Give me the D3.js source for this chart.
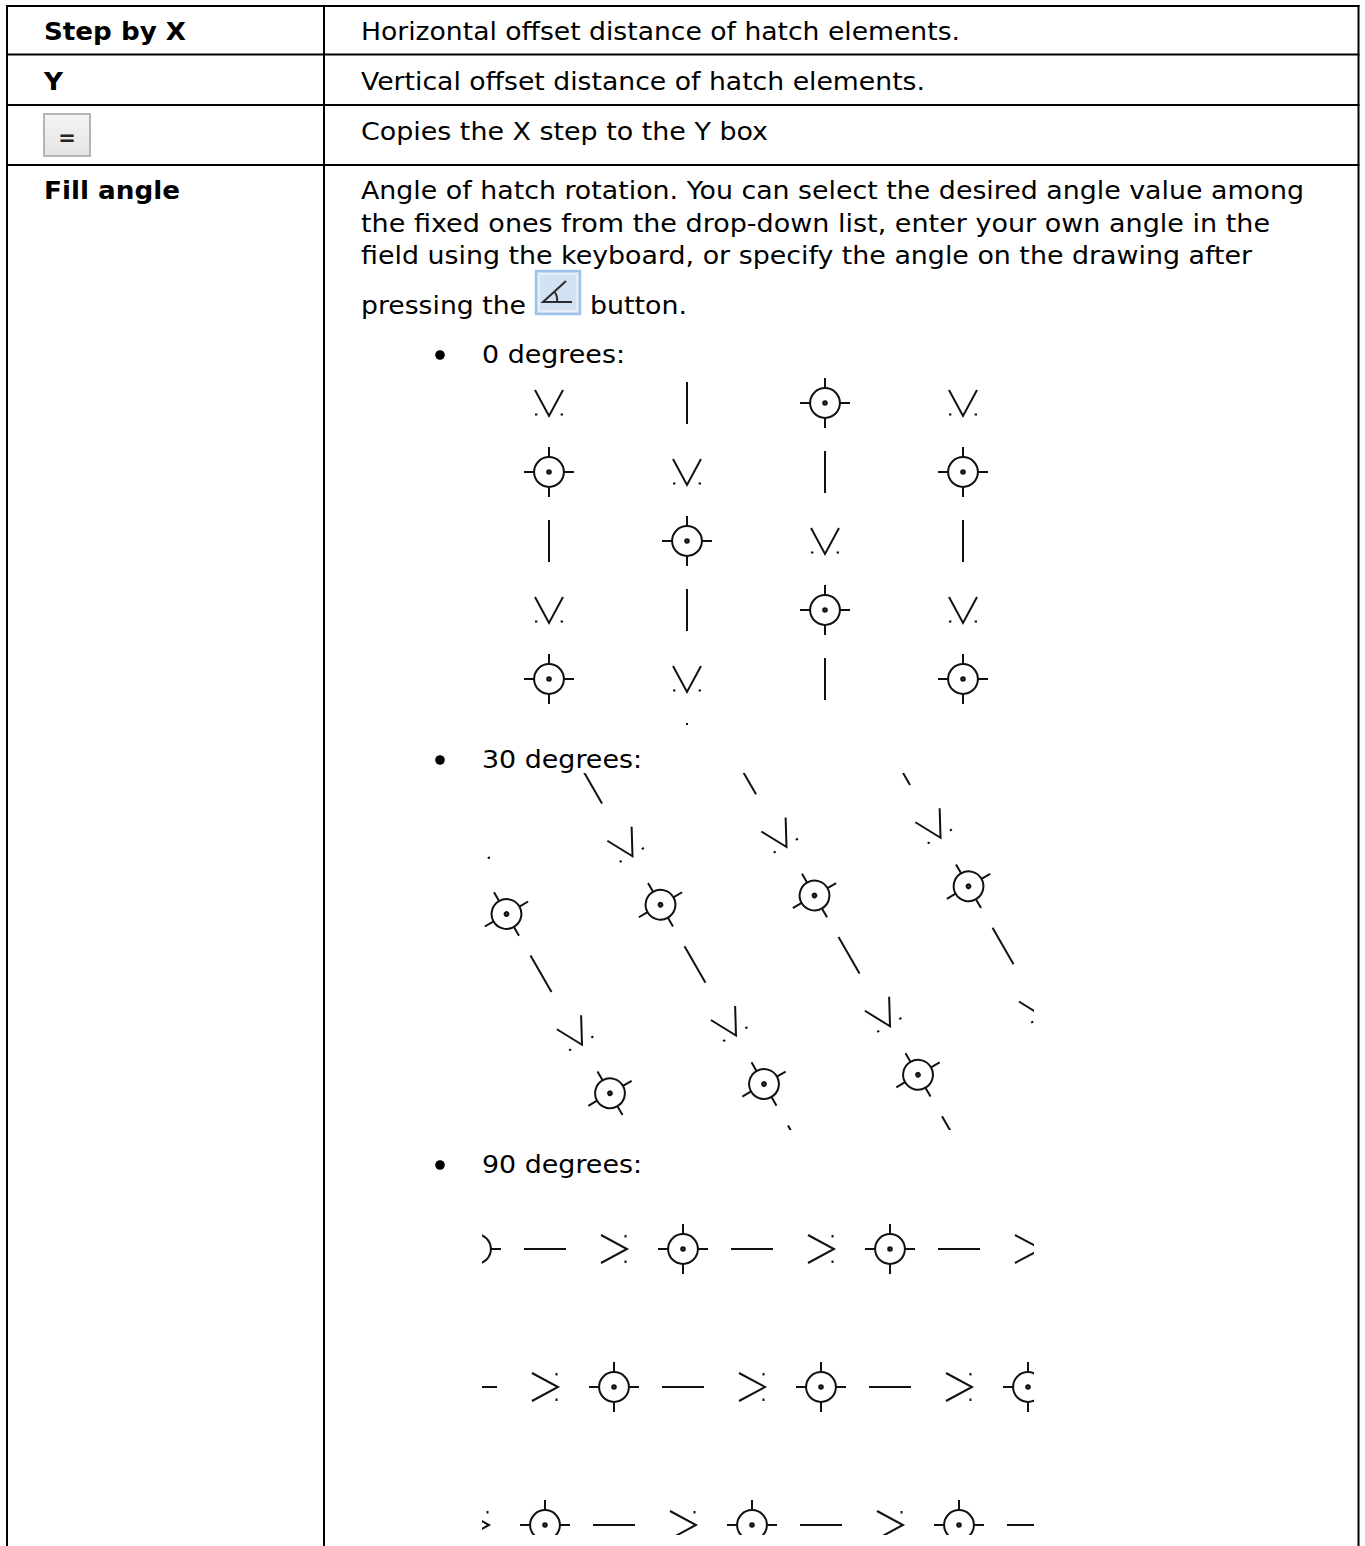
<!DOCTYPE html>
<html>
<head>
<meta charset="utf-8">
<script src="https://cdn.jsdelivr.net/npm/d3@7/dist/d3.min.js"></script>
<style>
html,body{margin:0;padding:0;background:#fff;overflow:hidden}
text{font-family:"DejaVu Sans",sans-serif;font-size:25.5px;fill:#000}
</style>
</head>
<body>
<div id="chart"></div>
<script>
// table text
var rowNames = ["Step by X","Y","","Fill angle"];
var rowTexts = [
	"Horizontal offset distance of hatch elements.",
	"Vertical offset distance of hatch elements.",
	"Copies the X step to the Y box",
	"Angle of hatch rotation. You can select the desired angle value among"
];
var moreLines = [
	"the fixed ones from the drop-down list, enter your own angle in the",
	"field using the keyboard, or specify the angle on the drawing after"
];
var pressWords = ["pressing the","button."];
var bulletLabels = ["0 degrees:","30 degrees:","90 degrees:"];

// hatch grids, V = tick, I = bar, T = target
var grid0 = ["VITV","TVIT","ITVI","VITV","TVIT","ITVI"];
var grid30 = ["VITV","TVIT","ITVI","VITV","TVIT","ITVI","VITV","TVIT"];
var grid90 = ["VIT","TVI","ITV","VIT","TVI","ITV","VIT","TVI","ITV"];

var w = 1365, h = 1546;

var svg = d3.select("#chart")
.append("svg")
.attr("width",w)
.attr("height",h)
.style("display","block");

// stretch a line to the width measured in the picture (Verdana runs wider than DejaVu)
function fit(sel,widths){
	sel.attr("textLength",(d,i) => widths[i])
	.attr("lengthAdjust","spacingAndGlyphs");
}

// table lines
var rowBottoms = [6,54.5,105,165];
svg.selectAll("line.row")
.data(rowBottoms)
.enter()
.append("line")
.attr("class","row")
.attr("x1",6)
.attr("x2",1359.5)
.attr("y1",d => d)
.attr("y2",d => d)
.attr("stroke","#000")
.attr("stroke-width",2);

svg.selectAll("line.col")
.data([7,324,1358.5])
.enter()
.append("line")
.attr("class","col")
.attr("x1",d => d)
.attr("x2",d => d)
.attr("y1",5)
.attr("y2",h)
.attr("stroke","#000")
.attr("stroke-width",2);

// first column and second column text
var rowBase = [40,90,140,199];
svg.selectAll("text.name")
.data(rowNames)
.enter()
.append("text")
.attr("class","name")
.attr("x",44)
.attr("y",(d,i) => rowBase[i])
.style("font-weight","bold")
.text(d => d)
.filter(d => d != "")
.call(fit,[142,19,136]);

svg.selectAll("text.desc")
.data(rowTexts)
.enter()
.append("text")
.attr("class","desc")
.attr("x",361)
.attr("y",(d,i) => rowBase[i])
.text(d => d)
.call(fit,[599,564,407,943]);

svg.selectAll("text.more")
.data(moreLines)
.enter()
.append("text")
.attr("class","more")
.attr("x",361)
.attr("y",(d,i) => 232+i*32)
.text(d => d)
.call(fit,[909,891]);

svg.selectAll("text.press")
.data(pressWords)
.enter()
.append("text")
.attr("class","press")
.attr("x",(d,i) => i==0 ? 361 : 590)
.attr("y",314)
.text(d => d)
.call(fit,[165,97]);

// "=" button
var defs = svg.append("defs");
var grad = defs.append("linearGradient")
.attr("id","btn")
.attr("x1",0).attr("y1",0).attr("x2",0).attr("y2",1);
grad.append("stop").attr("offset","0").attr("stop-color","#f4f4f4");
grad.append("stop").attr("offset","1").attr("stop-color","#e4e4e4");

svg.append("rect")
.attr("x",44).attr("y",114).attr("width",46).attr("height",42)
.attr("fill","url(#btn)").attr("stroke","#b4b4b4").attr("stroke-width",2);
svg.append("text")
.attr("x",67).attr("y",144.5)
.attr("text-anchor","middle")
.style("font-size","21px")
.style("font-weight","bold")
.style("fill","#222")
.text("=");

// angle button
svg.append("rect")
.attr("x",536).attr("y",271).attr("width",44).attr("height",43)
.attr("fill","#d3e2f2").attr("stroke","#9cc2ee").attr("stroke-width",2.4);
svg.append("rect")
.attr("x",539).attr("y",274).attr("width",38).attr("height",37)
.attr("fill","none").attr("stroke","#e6eff8").attr("stroke-width",2);
svg.append("path")
.attr("d","M572,302H543L566,281M554,291Q558,296 557,302")
.attr("fill","none").attr("stroke","#2b2b2b").attr("stroke-width",2);

// bullets
var bulletY = [362.5,767.5,1172.5];
svg.selectAll("circle.bullet")
.data(bulletLabels)
.enter()
.append("circle")
.attr("class","bullet")
.attr("cx",440)
.attr("cy",(d,i) => bulletY[i]-7.5)
.attr("r",4.8)
.attr("fill","#000");

svg.selectAll("text.bullet")
.data(bulletLabels)
.enter()
.append("text")
.attr("class","bullet")
.attr("x",482)
.attr("y",(d,i) => bulletY[i])
.text(d => d)
.call(fit,[143,160,160]);

// hatch cell scales, same lattice for every angle
var colX = d3.scaleLinear().domain([0,1]).range([0,138]);
var rowY = d3.scaleLinear().domain([0,1]).range([0,69]);

function drawTick(g){
	g.append("path").attr("d","M-14,-13L0,13L14,-13").attr("fill","none");
	g.append("path").attr("d","M-14,11.5h2.4M11.6,11.5h2.4").attr("fill","none");
}
function drawBar(g){
	g.append("path").attr("d","M0,-21V21").attr("fill","none");
}
function drawTarget(g){
	g.append("circle").attr("r",14.9).attr("fill","none");
	g.append("circle").attr("r",1.8).attr("fill","#555");
	g.append("path").attr("d","M0,-25V-14.9M0,14.9V25M-25,0H-14.9M14.9,0H25").attr("fill","none");
}

function hatch(id,grid,angle,ox,oy,colStart,rowStart,clip){
	svg.append("clipPath")
	.attr("id",id)
	.append("rect")
	.attr("x",clip[0]).attr("y",clip[1])
	.attr("width",clip[2]-clip[0]).attr("height",clip[3]-clip[1]);

	var g = svg.append("g")
	.attr("clip-path","url(#"+id+")")
	.append("g")
	.attr("transform","translate("+ox+","+oy+") rotate("+angle+")")
	.attr("stroke","#111")
	.attr("stroke-width",2);

	grid.forEach((row,r) => {
		row.split("").forEach((kind,c) => {
			var s = g.append("g")
			.attr("transform","translate("+colX(c+colStart)+","+rowY(r+rowStart)+")");
			if(kind == "V"){
				drawTick(s);
			}else if(kind == "I"){
				drawBar(s);
			}else{
				drawTarget(s);
			}
		})
	})
}

hatch("h0",grid0,0,549,403,0,0,[482,378,1034,725]);
hatch("h30",grid30,-30,626,845,-1,-1,[482,773,1034,1130]);
hatch("h90",grid90,-90,614,1249,-2,-2,[482,1205,1034,1535]);
</script>
</body>
</html>
